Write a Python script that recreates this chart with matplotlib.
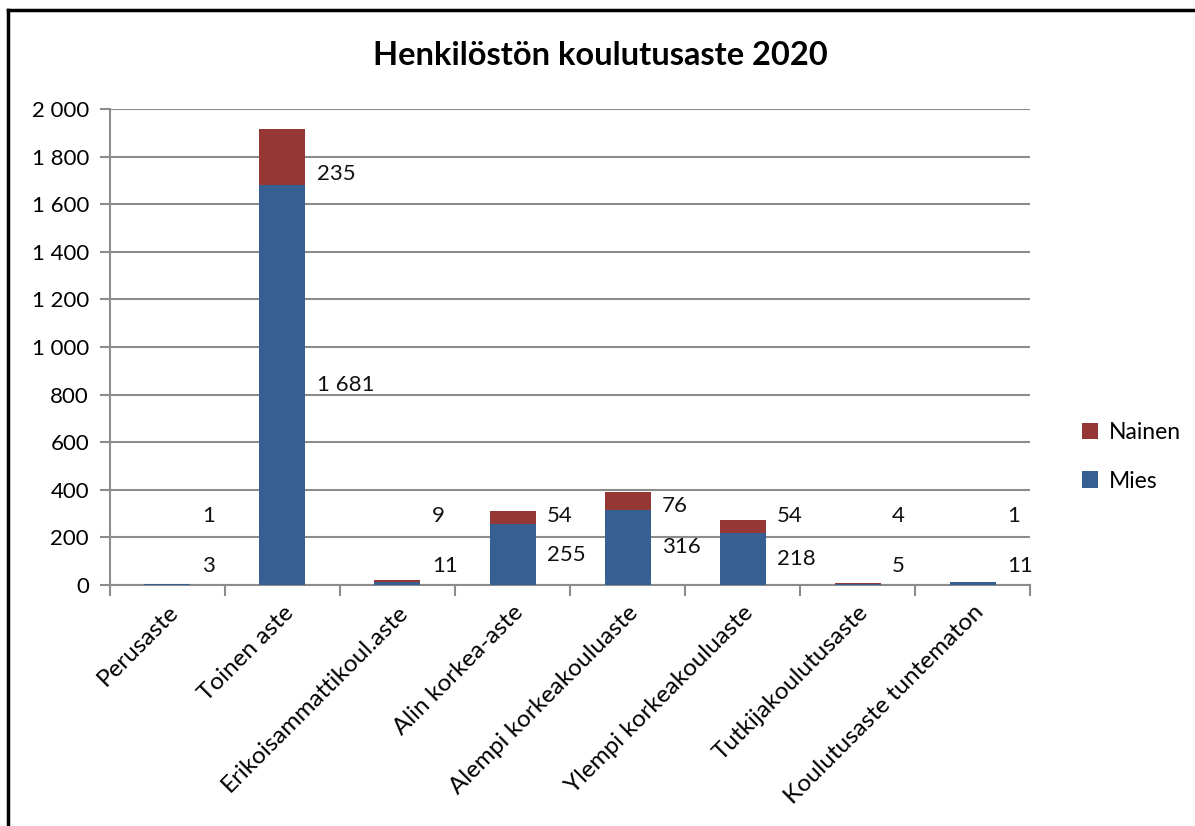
import matplotlib.pyplot as plt
from matplotlib.lines import Line2D
import numpy as np

plt.rcParams['font.family'] = ['Lato', 'DejaVu Sans']

# data
categories = ['Perusaste', 'Toinen aste', 'Erikoisammattikoul.aste', 'Alin korkea-aste',
              'Alempi korkeakouluaste', 'Ylempi korkeakouluaste', 'Tutkijakoulutusaste',
              'Koulutusaste tuntematon']
mies = [3, 1681, 11, 255, 316, 218, 5, 11]
nainen = [1, 235, 9, 54, 76, 54, 4, 1]

blue = '#376092'
red = '#953735'
grid_gray = '#8c8c8c'

def fi(v):
    # finnish style thousands separator
    return f"{v:,}".replace(',', ' ')

fig = plt.figure(figsize=(11.95, 8.26), dpi=100)
ax = fig.add_axes([0.092, 0.2918, 0.77, 0.5762])

x = np.arange(len(categories))
width = 0.4
ax.bar(x, mies, width=width, color=blue, label='Mies', zorder=3)
ax.bar(x, nainen, width=width, bottom=mies, color=red, label='Nainen', zorder=3)

# data labels to the right of each bar
for i in range(len(categories)):
    m, n = mies[i], nainen[i]
    ax.text(x[i] + 0.3, max(m / 2, 80), fi(m), ha='left', va='center', fontsize=16, color='#111111')
    ax.text(x[i] + 0.3, max(m + 0.2 * n, 290), fi(n), ha='left', va='center', fontsize=16, color='#111111')

ax.set_xlim(-0.5, len(categories) - 0.5)
ax.set_ylim(0, 2000)
ax.set_yticks(range(0, 2001, 200))
ax.set_yticklabels([fi(v) for v in range(0, 2001, 200)], fontsize=16)
ax.yaxis.grid(True, color=grid_gray, linewidth=1.5, zorder=0)

# category labels at centers, ticks between categories
ax.set_xticks(x)
ax.set_xticklabels(categories, rotation=45, ha='right', rotation_mode='anchor', fontsize=17.5)
ax.tick_params(axis='x', length=0, pad=12)
ax.set_xticks(np.arange(-0.5, len(categories), 1), minor=True)
ax.tick_params(axis='x', which='minor', length=8, width=1.5, color=grid_gray)
ax.tick_params(axis='y', length=7, width=1.5, color=grid_gray, pad=8)

for side in ['top', 'right']:
    ax.spines[side].set_visible(False)
for side in ['left', 'bottom']:
    ax.spines[side].set_color(grid_gray)
    ax.spines[side].set_linewidth(1.5)

fig.text(0.502, 0.933, 'Henkilöstön koulutusaste 2020', ha='center', va='center',
         fontsize=23.5, fontweight='bold')

handles, labels = ax.get_legend_handles_labels()
fig.legend(handles[::-1], labels[::-1], loc='center left', bbox_to_anchor=(0.888, 0.447),
           frameon=False, fontsize=16.5, handlelength=0.7, handleheight=0.7,
           handletextpad=0.5, labelspacing=1.2)

# outer frame (left and top edges visible)
fig.add_artist(Line2D([8 / 1195, 8 / 1195], [0, 1 - 10 / 826], color='black', linewidth=2.5))
fig.add_artist(Line2D([8 / 1195, 1], [1 - 10 / 826, 1 - 10 / 826], color='black', linewidth=2.5))

fig.savefig('out.png', dpi=100)
